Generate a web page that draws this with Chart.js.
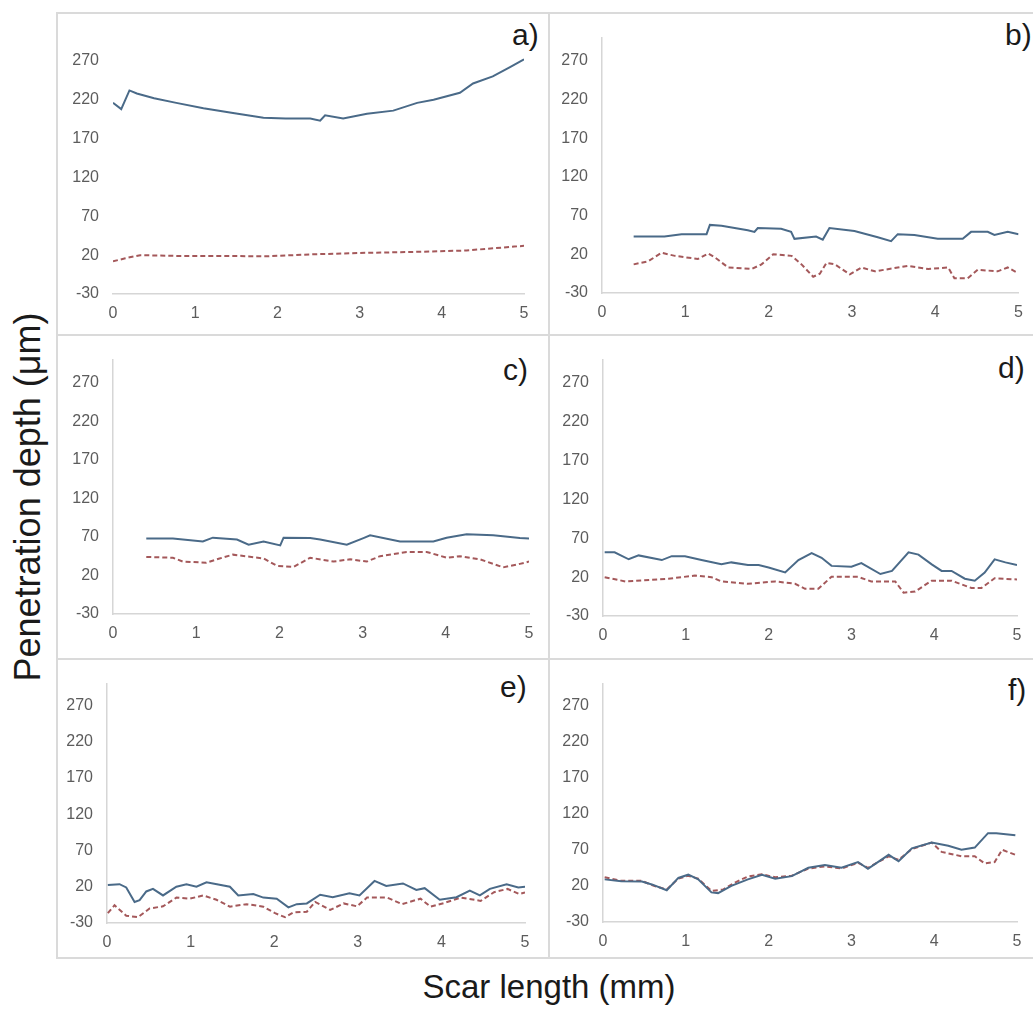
<!DOCTYPE html>
<html>
<head>
<meta charset="utf-8">
<script src="https://cdn.jsdelivr.net/npm/chart.js@4/dist/chart.umd.min.js"></script>
<style>
    body { margin: 0; background: #fff; width: 1033px; height: 1012px; position: relative; overflow: hidden; font-family: "Liberation Sans", Arial, sans-serif; }
    canvas { position: absolute; }
    .rule { position: absolute; background: #dadada; }
    .tag { position: absolute; font-size: 30px; line-height: 30px; color: #1a1a1a; white-space: nowrap; }
    #xtitle { position: absolute; left: 299px; top: 970px; width: 500px; text-align: center; font-size: 33px; line-height: 33px; color: #1a1a1a; }
    #ytitle { position: absolute; left: -190px; top: 479px; width: 436px; height: 36px; text-align: center; font-size: 36px; line-height: 36px; color: #1a1a1a; transform: rotate(-90deg); white-space: nowrap; }
</style>
</head>
<body>
<div class="rule" style="left:56px;top:12px;width:977px;height:2px"></div>
<div class="rule" style="left:56px;top:334px;width:977px;height:2px"></div>
<div class="rule" style="left:56px;top:658px;width:977px;height:2px"></div>
<div class="rule" style="left:56px;top:957px;width:977px;height:2px"></div>
<div class="rule" style="left:56px;top:12px;width:2px;height:947px"></div>
<div class="rule" style="left:548px;top:12px;width:2px;height:947px"></div>

<div class="tag" style="left:512px;top:20px">a)</div>
<div class="tag" style="left:1005px;top:20px">b)</div>
<div class="tag" style="left:503px;top:355px">c)</div>
<div class="tag" style="left:998px;top:353px">d)</div>
<div class="tag" style="left:500px;top:672px">e)</div>
<div class="tag" style="left:1008px;top:675px">f)</div>

<div id="ytitle">Penetration depth (μm)</div>
<div id="xtitle">Scar length (mm)</div>

<script>
const xTicks = [0, 1, 2, 3, 4, 5];
const yTicks = [-30, 20, 70, 120, 170, 220, 270];

// a)
const aBlueX = [0, 0.1, 0.2, 0.29, 0.5, 0.77, 1.1, 1.46, 1.83, 2.1, 2.4, 2.52, 2.58, 2.8, 3.09, 3.41, 3.7, 3.9, 4.22, 4.38, 4.62, 4.83, 5.0];
const aBlue  = [216, 208, 232, 228, 222, 216, 209, 203, 197, 196, 196, 193, 200, 196, 202, 206, 216, 220, 229, 241, 250, 262, 272];
const aRedX  = [0, 0.15, 0.33, 0.8, 1.3, 1.87, 2.4, 3.09, 3.6, 4.3, 4.88, 5.0];
const aRed   = [12, 16, 20, 19, 19, 18.5, 21, 23, 24, 26, 31, 32];

// b)
const bBlueX = [0.38, 0.75, 0.955, 1.255, 1.295, 1.435, 1.75, 1.83, 1.87, 2.15, 2.27, 2.31, 2.57, 2.65, 2.73, 3.03, 3.31, 3.47, 3.55, 3.75, 4.03, 4.33, 4.43, 4.63, 4.71, 4.87, 5.0];
const bBlue  = [43, 43, 46, 46, 58, 57, 51, 49, 54, 53, 49, 40, 43, 39, 54, 50, 42, 37, 46, 45, 40, 40, 49, 49, 45, 49, 46];
const bRedX  = [0.38, 0.555, 0.715, 0.875, 1.15, 1.275, 1.355, 1.515, 1.795, 1.915, 2.055, 2.275, 2.395, 2.535, 2.615, 2.695, 2.795, 2.975, 3.115, 3.275, 3.67, 3.915, 4.155, 4.23, 4.39, 4.51, 4.75, 4.87, 4.97];
const bRed   = [7, 11, 22, 18, 14, 21, 16, 3, 1, 7, 20, 18, 7, -9, -5, 9, 7, -6, 3, -2, 5, 1, 3, -11, -11, 0, -2, 3, -3];

// c)
const cBlueX = [0.4, 0.72, 1.08, 1.2, 1.49, 1.63, 1.81, 2.01, 2.05, 2.37, 2.49, 2.81, 3.01, 3.09, 3.45, 3.85, 4.01, 4.25, 4.57, 4.89, 5.0];
const cBlue  = [68, 68, 64, 69, 66.5, 60, 64, 59, 69, 68.5, 66.5, 60, 68.5, 72, 64, 64, 69, 73.5, 72, 68.5, 68];
const cRedX  = [0.4, 0.72, 0.84, 1.12, 1.28, 1.44, 1.81, 1.97, 2.17, 2.37, 2.65, 2.85, 3.05, 3.21, 3.53, 3.77, 4.01, 4.17, 4.41, 4.69, 4.89, 5.0];
const cRed   = [44, 43, 38, 36.5, 42, 47, 42, 32.5, 31, 43, 38, 41, 38, 45, 50.5, 50.5, 43, 45, 41, 30.5, 35, 38];

// d)
const dBlueX = [0.02, 0.14, 0.31, 0.43, 0.71, 0.83, 0.99, 1.19, 1.43, 1.55, 1.75, 1.88, 2.0, 2.2, 2.36, 2.52, 2.64, 2.76, 3.0, 3.12, 3.35, 3.49, 3.69, 3.81, 3.97, 4.09, 4.21, 4.37, 4.49, 4.61, 4.73, 4.86, 5.0];
const dBlue  = [52, 52, 43, 48, 42, 47, 47, 42, 36.5, 39, 35.5, 35.5, 32.5, 26, 42, 51, 45, 34.5, 33.5, 38, 24, 28, 52, 49, 36.5, 28, 28, 18, 15.5, 26, 43, 39, 35.5];
const dRedX  = [0.02, 0.27, 0.79, 1.11, 1.31, 1.43, 1.75, 2.08, 2.32, 2.44, 2.6, 2.76, 3.08, 3.24, 3.53, 3.63, 3.77, 3.97, 4.21, 4.45, 4.57, 4.73, 5.0];
const dRed   = [20, 14.5, 18, 22, 20, 14.5, 11.5, 14.5, 11.5, 5, 5, 20.5, 20.5, 14.5, 14.5, 0, 1.5, 15.5, 15.5, 6, 6, 18.5, 17];

// e)
const eBlueX = [0.01, 0.15, 0.23, 0.33, 0.39, 0.47, 0.55, 0.67, 0.83, 0.95, 1.07, 1.19, 1.47, 1.57, 1.75, 1.87, 2.03, 2.17, 2.27, 2.39, 2.55, 2.7, 2.9, 3.02, 3.2, 3.34, 3.54, 3.7, 3.8, 3.98, 4.18, 4.34, 4.46, 4.58, 4.78, 4.92, 5.0];
const eBlue  = [22.5, 23.5, 19, -1, 1.5, 13.5, 17, 8, 20, 23.5, 20, 26, 20, 8, 10, 5, 3.5, -8.5, -4, -3, 9, 5.5, 11, 8, 28, 21, 24.5, 15.5, 18, 2, 5.5, 14.5, 8, 17, 23.5, 19, 20];
const eRedX  = [0.01, 0.09, 0.23, 0.37, 0.51, 0.67, 0.83, 0.99, 1.15, 1.31, 1.47, 1.67, 1.87, 2.01, 2.13, 2.23, 2.39, 2.49, 2.67, 2.83, 2.99, 3.11, 3.35, 3.53, 3.75, 3.87, 4.03, 4.23, 4.47, 4.63, 4.79, 4.93, 5.0];
const eRed   = [-16.5, -5.5, -20, -22, -10, -7, 5, 3.5, 8, 2, -7.5, -4, -7.5, -16.5, -22, -15.5, -14.5, -1, -12, -3, -7, 5, 5, -4, 3.5, -7.5, -2.5, 5, 0.5, 12.5, 17, 10, 12];

// f)
const fBlueX = [0.02, 0.22, 0.47, 0.59, 0.77, 0.91, 1.03, 1.15, 1.31, 1.39, 1.55, 1.75, 1.92, 2.08, 2.28, 2.48, 2.68, 2.88, 3.08, 3.2, 3.45, 3.57, 3.73, 3.97, 4.17, 4.33, 4.49, 4.65, 4.75, 4.98];
const fBlue  = [29, 26.5, 26, 22, 14, 31, 35.5, 29, 11, 10, 20, 29, 35.5, 30, 33.5, 45, 49, 45, 53, 43.5, 63, 54, 72, 80, 75.5, 70, 73, 93, 93, 90];
const fRedX  = [0.02, 0.22, 0.47, 0.59, 0.77, 0.91, 1.03, 1.15, 1.31, 1.45, 1.6, 1.75, 1.92, 2.08, 2.28, 2.48, 2.68, 2.88, 3.08, 3.2, 3.45, 3.57, 3.73, 3.97, 4.09, 4.33, 4.49, 4.61, 4.73, 4.82, 4.98];
const fRed   = [32, 27, 27, 21, 15, 30, 34, 30, 13, 15, 25, 33, 36, 32, 34, 44, 47, 44, 52, 45, 61, 56, 71, 80, 67, 61, 61, 51, 53, 70, 63];

const BLUE = '#4a6a88';
const RED = '#a4585a';
const AXIS_W = 46;   // fixed width of the y tick column
const AXIS_H = 30;   // fixed height of the x tick row

// canvas box [left, top, w, h] and plot area [x at 0, x at 5, y top, y bottom] in page pixels
const panels = [
    { box: [58, 14, 491, 321],  area: [113, 524, 30, 294],  yLine: false, bx: aBlueX, by: aBlue, rx: aRedX, ry: aRed },
    { box: [550, 14, 483, 321], area: [602, 1019, 30, 293], yLine: true,  bx: bBlueX, by: bBlue, rx: bRedX, ry: bRed },
    { box: [58, 336, 491, 323], area: [113, 529, 355, 614], yLine: true,  bx: cBlueX, by: cBlue, rx: cRedX, ry: cRed },
    { box: [550, 336, 483, 323],area: [603, 1017, 355, 616], yLine: true,  bx: dBlueX, by: dBlue, rx: dRedX, ry: dRed },
    { box: [58, 660, 491, 298], area: [107, 525, 677, 923], yLine: true,  bx: eBlueX, by: eBlue, rx: eRedX, ry: eRed },
    { box: [550, 660, 483, 298],area: [603, 1017, 676, 922], yLine: true,  bx: fBlueX, by: fBlue, rx: fRedX, ry: fRed }
];

function points(xs, ys) {
    return xs.map((x, i) => ({ x: x, y: ys[i] }));
}

const tickFont = { family: '"Liberation Sans", Arial, sans-serif', size: 16 };

panels.forEach(function(p) {
    const [left, top, w, h] = p.box;
    const [x0, x5, yTop, yBottom] = p.area;

    const canvas = document.createElement('canvas');
    canvas.width = w;
    canvas.height = h;
    canvas.style.left = left + 'px';
    canvas.style.top = top + 'px';
    document.body.appendChild(canvas);

    new Chart(canvas.getContext('2d'), {
        type: 'line',
        data: {
            datasets: [
                {
                    data: points(p.bx, p.by),
                    borderColor: BLUE,
                    borderWidth: 2,
                    pointRadius: 0,
                    tension: 0,
                    fill: false
                },
                {
                    data: points(p.rx, p.ry),
                    borderColor: RED,
                    borderWidth: 2,
                    borderDash: [5, 3],
                    pointRadius: 0,
                    tension: 0,
                    fill: false
                }
            ]
        },
        options: {
            responsive: false,
            animation: false,
            devicePixelRatio: 1,
            layout: {
                padding: {
                    left: x0 - left - AXIS_W,
                    right: left + w - x5,
                    top: yTop - top,
                    bottom: top + h - yBottom - AXIS_H
                }
            },
            plugins: {
                legend: { display: false },
                tooltip: { enabled: false }
            },
            scales: {
                x: {
                    type: 'linear',
                    min: 0,
                    max: 5,
                    afterBuildTicks: s => { s.ticks = xTicks.map(v => ({ value: v })); },
                    afterFit: s => { s.height = AXIS_H; },
                    grid: { display: false, drawTicks: false },
                    border: { display: true, color: '#d6d6d6', width: 1.5 },
                    ticks: { color: '#5c5c5c', font: tickFont, padding: 10, maxRotation: 0 }
                },
                y: {
                    min: -30,
                    max: 300,
                    afterBuildTicks: s => { s.ticks = yTicks.map(v => ({ value: v })); },
                    afterFit: s => { s.width = AXIS_W; },
                    grid: { display: false, drawTicks: false },
                    border: { display: p.yLine, color: '#d6d6d6', width: 1.5 },
                    ticks: { color: '#5c5c5c', font: tickFont, padding: 14 }
                }
            }
        }
    });
});
</script>
</body>
</html>
